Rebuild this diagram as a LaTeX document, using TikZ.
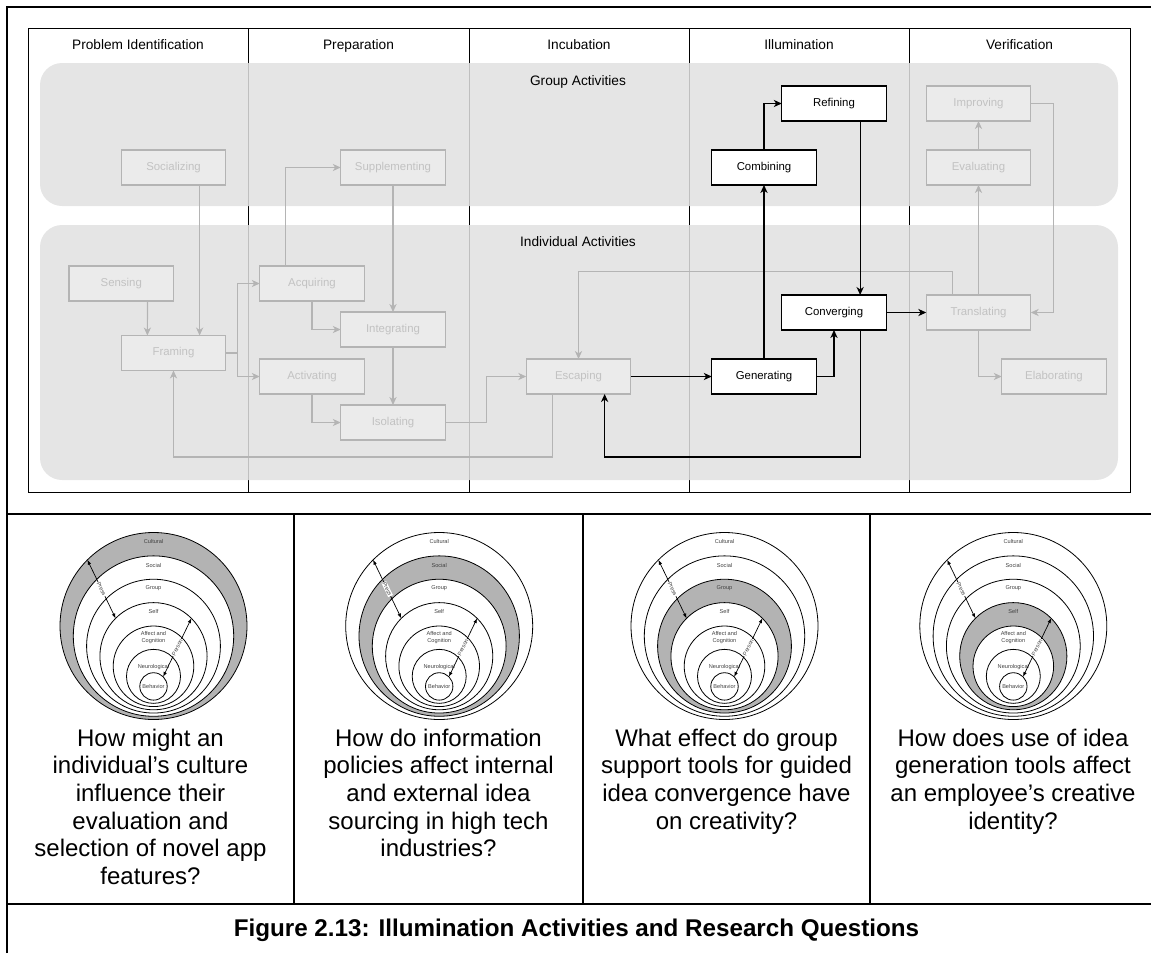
\documentclass[tikz,border=0pt]{standalone}
\usepackage{fontspec}
\setmainfont{Liberation Sans}
\usepackage{tikz}
\usetikzlibrary{arrows.meta, positioning, calc}
\definecolor{ilBand}{HTML}{E1E1E1}
\definecolor{ilFadeFill}{HTML}{EBEBEB}
\definecolor{ilFadeLine}{HTML}{B4B4B4}
\definecolor{ilFadeText}{HTML}{C2C2C2}
\definecolor{ilRing}{HTML}{B3B3B3}
\definecolor{ilOnionText}{HTML}{404040}
\tikzset{
  ilbox/.style={rectangle, draw=black, line width=0.65pt, fill=white, text=black,
                font=\fontsize{5.7pt}{6.8pt}\selectfont, align=center, inner sep=0pt, outer sep=0pt,
                minimum width=52.25pt, minimum height=17.5pt},
  ilfade/.style={ilbox, draw=ilFadeLine, fill=ilFadeFill, text=ilFadeText, line width=0.6pt},
  ilflow/.style={-{Stealth[length=4pt, width=3.6pt, inset=1.2pt]}, line width=0.6pt, color=black},
  ilfadeflow/.style={ilflow, color=ilFadeLine},
  ilband/.style={fill=ilBand, fill opacity=0.85, rounded corners=11pt},
  ilhead/.style={font=\fontsize{6.85pt}{8pt}\selectfont, inner sep=0pt, anchor=base},
  ilgrid/.style={line width=0.5pt, color=black},
  iltable/.style={line width=1pt, color=black},
  ilquest/.style={font=\fontsize{12pt}{13.85pt}\selectfont, align=center, anchor=north, inner sep=0pt},
  onionring/.style={circle, draw=black, line width=0.4pt, inner sep=0pt, outer sep=0pt},
  onionlbl/.style={font=\fontsize{2.8pt}{3.5pt}\selectfont, text=ilOnionText, align=center, inner sep=0.3pt},
  onionarrow/.style={{Latex[length=2.4pt, width=1.8pt]}-{Latex[length=2.4pt, width=1.8pt]}, line width=0.35pt},
  onion/.pic={
    \fill[ilRing, even odd rule] (0,{10.07*#1}) circle[radius={0.5pt*(93.5-13.3*#1)}]
                                 (0,{10.07*(#1+1)}) circle[radius={0.5pt*(93.5-13.3*(#1+1))}];
    \foreach \i in {0,...,6}
      \node[onionring, minimum size={93.5pt-13.3pt*\i}] (-c\i) at (0,{10.07*\i}) {};
    \foreach \lab/\dy [count=\k] in {Cultural/-84.3, Social/-61, Group/-37.7, Self/-14.3,
                                     {Affect and\\Cognition}/12, Neurological/40.7, Behavior/60.7}
      \node[onionlbl] (-t\k) at (0,\dy) {\lab};
    \draw[onionarrow] (-c0.135) -- (-c3.135)
      node[onionlbl, fill=white, midway, sloped] (-press) {Press};
    \draw[onionarrow] (-c3.45) -- (-c6.45)
      node[onionlbl, fill=white, midway, sloped] (-person) {Person};
  },
}

\begin{document}
\begin{tikzpicture}[x=0.5pt, y=-0.5pt]
  \useasboundingbox (0,0) rectangle (1151,953);
  % table
  \draw[iltable] (7,953) -- (7,6.5) -- (1151,6.5);
  \draw[iltable] (7,514) -- (1151,514);
  \draw[iltable] (7,904) -- (1151,904);
  \foreach \x in {294,583,870}
    \draw[iltable] (\x,514) -- (\x,904);
  % phases
  \draw[ilgrid] (28,28) rectangle (1130,492.5);
  \foreach \x in {248,469,689,909.5}
    \draw[ilgrid] (\x,28) -- (\x,492.5);
  \node[ilhead](hprob) at (138,49.5){Problem Identification};
  \node[ilhead](hprep) at (358.5,49.5){Preparation};
  \node[ilhead](hincu) at (579,49.5){Incubation};
  \node[ilhead](hillu) at (799,49.5){Illumination};
  \node[ilhead](hveri) at (1019.5,49.5){Verification};
  % group / individual
  \fill[ilband] (40,63) rectangle (1118,206);
  \fill[ilband] (40,225) rectangle (1118,480);
  \node[ilhead](grouplbl) at (578,85){Group Activities};
  \node[ilhead](indivlbl) at (578,246.6){Individual Activities};

  \node[ilfade](socializing) at (173.5,167.5){Socializing};
  \node[ilfade, right=57.5pt of socializing](supplementing){Supplementing};
  \node[ilfade](sensing) at (121.3,283.5){Sensing};
  \node[ilfade](framing) at (173.5,353){Framing};
  \node[ilfade](acquiring) at (312,283.5){Acquiring};
  \node[ilfade, below=29pt of acquiring](activating){Activating};
  \node[ilfade](integrating) at (393,329.5){Integrating};
  \node[ilfade, below=29pt of integrating](isolating){Isolating};
  \node[ilfade](escaping) at (578.5,376.5){Escaping};
  \node[ilbox, right=40.5pt of escaping](generating){Generating};
  \node[ilbox](converging) at (834,312.5){Converging};
  \node[ilfade, right=20pt of converging](translating){Translating};
  \node[ilfade](elaborating) at (1054,376.5){Elaborating};
  \node[ilfade, above=55pt of translating](evaluating){Evaluating};
  \node[ilfade, above=14.5pt of evaluating](improving){Improving};
  \node[ilbox, left=20pt of improving](refining){Refining};
  \node[ilbox, left=55pt of evaluating](combining){Combining};

  \draw[ilfadeflow]($(sensing.south)!.5!(sensing.south east)$)--($(framing.north)!.5!(framing.north west)$);
  \draw[ilfadeflow]($(socializing.south)!.5!(socializing.south east)$)--($(framing.north)!.5!(framing.north east)$);
  \draw[ilfadeflow](framing.east)--++(12,0)|-(acquiring.west);
  \draw[ilfadeflow](framing.east)--++(12,0)|-(activating.west);
  \draw[ilfadeflow]($(acquiring.north)!.5!(acquiring.north west)$)|-(supplementing.west);
  \draw[ilfadeflow](acquiring.south)|-(integrating.west);
  \draw[ilfadeflow](supplementing.south)--(integrating.north);
  \draw[ilfadeflow](integrating.south)--(isolating.north);
  \draw[ilfadeflow](activating.south)|-(isolating.west);
  \draw[ilfadeflow](isolating.east)--++(41.4,0)|-(escaping.west);
  \draw[ilfadeflow]($(escaping.south)!.5!(escaping.south west)$)--++(0,63)-|(framing.south);
  \draw[ilfadeflow]($(translating.north)!.5!(translating.north west)$)--++(0,-23.3)-|(escaping.north);
  \draw[ilfadeflow](translating.north)--(evaluating.south);
  \draw[ilfadeflow](evaluating.north)--(improving.south);
  \draw[ilfadeflow](improving.east)--++(23,0)|-(translating.east);
  \draw[ilfadeflow](translating.south)|-(elaborating.west);
  % illumination path
  \draw[ilflow](escaping.east)--(generating.west);
  \draw[ilflow](generating.east)-|(converging.south);
  \draw[ilflow](generating.north)--(combining.south);
  \draw[ilflow](combining.north)|-(refining.west);
  \draw[ilflow]($(refining.south)!.5!(refining.south east)$)--($(converging.north)!.5!(converging.north east)$);
  \draw[ilflow]($(converging.south)!.5!(converging.south east)$)--++(0,127)-|($(escaping.south)!.5!(escaping.south east)$);
  \draw[ilflow](converging.east)--(translating.west);

  % research questions
  \pic (p1) at (153.5,626) {onion=0};
  \pic (p2) at (439.2,626) {onion=1};
  \pic (p3) at (724.5,626) {onion=2};
  \pic (p4) at (1013.3,626) {onion=3};
  \node[ilquest](q1) at (150.5,728.3){How might an\\individual’s culture\\influence their\\evaluation and\\selection of novel app\\features?};
  \node[ilquest](q2) at (438.5,728.3){How do information\\policies affect internal\\and external idea\\sourcing in high tech\\industries?};
  \node[ilquest](q3) at (726.5,728.3){What effect do group\\support tools for guided\\idea convergence have\\on creativity?};
  \node[ilquest](q4) at (1013,728.3){How does use of idea\\generation tools affect\\an employee’s creative\\identity?};
  \node[font=\bfseries\fontsize{12.1pt}{14pt}\selectfont, inner sep=0pt](caption) at (576.5,930)
    {Figure 2.13: Illumination Activities and Research Questions};
\end{tikzpicture}
\end{document}
